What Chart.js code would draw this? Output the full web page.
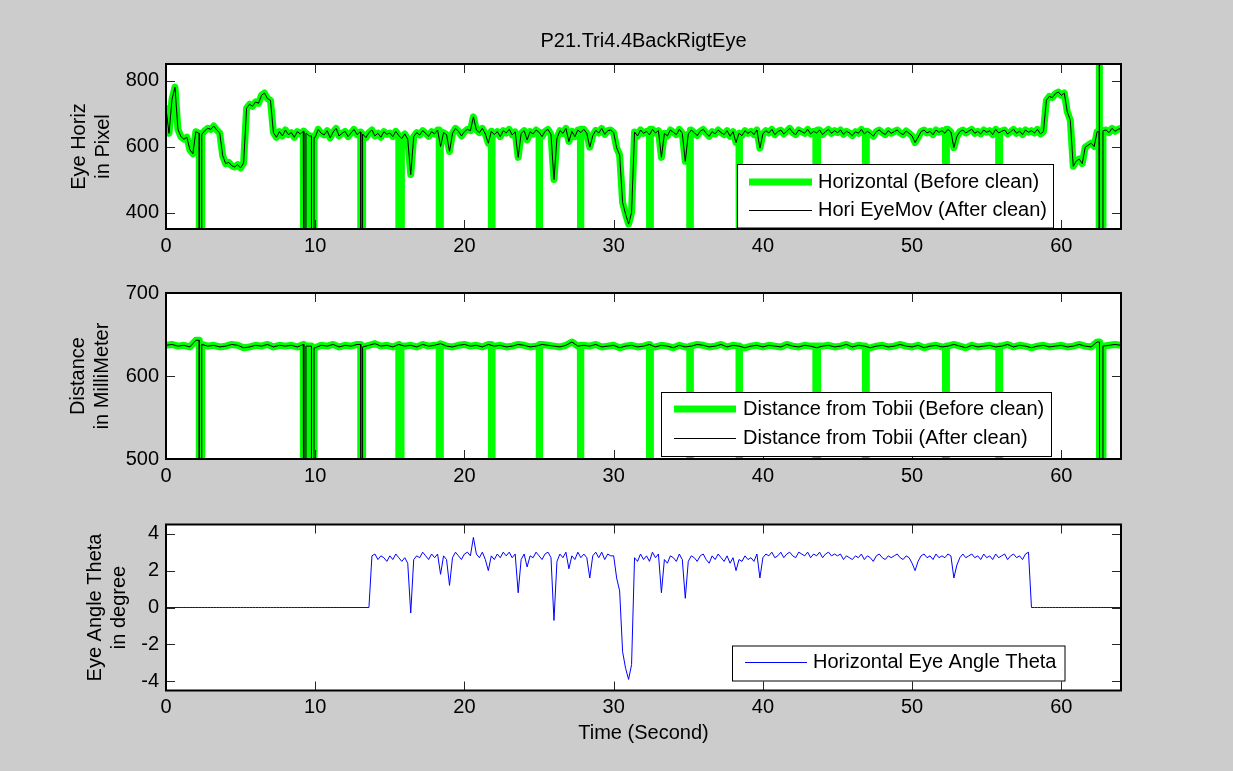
<!DOCTYPE html>
<html>
<head>
<meta charset="utf-8">
<title>P21.Tri4.4BackRigtEye</title>
<script src="https://cdn.jsdelivr.net/npm/chart.js@4.4.1/dist/chart.umd.min.js"></script>
<style>
    html, body { margin: 0; padding: 0; background: #cccccc; }
    #figure { position: relative; width: 1233px; height: 771px; overflow: hidden; background: #cccccc; }
    #figure canvas { position: absolute; left: 0; }
</style>
</head>
<body>
<div id="figure">
    <canvas id="horizChart" width="1233" height="260" style="top:0px"></canvas>
    <canvas id="distChart" width="1233" height="240" style="top:260px"></canvas>
    <canvas id="thetaChart" width="1233" height="271" style="top:500px"></canvas>
</div>
<script>
// sample spacing in seconds
const timeStep = 0.2;
const distStep = 0.4;

// eye horizontal position after cleaning (pixel), one value every 0.2 s, one row per second
const horizPixel = [
    715, 640, 742, 780, 652,
    630, 622, 628, 590, 578,
    645, 640, 636, 648, 655,
    652, 662, 650, 641, 572,
    548, 552, 542, 538, 545,
    535, 550, 716, 728, 722,
    735, 731, 755, 762, 745,
    740, 642, 628, 645, 632,
    650, 636, 642, 628, 645,
    638, 646, 640, 632, 644,
    628, 652, 640, 635, 648,
    626, 644, 655, 632, 640,
    646, 630, 641, 652, 636,
    644, 638, 627, 642, 650,
    632, 640, 628, 645, 637,
    641, 630, 646, 633, 624,
    638, 622, 515, 630, 642,
    635, 648, 640, 631, 645,
    638, 650, 600, 642, 636,
    585, 640, 655, 646, 632,
    645, 652, 648, 690, 650,
    642, 655, 638, 610, 646,
    636, 645, 630, 648, 641,
    652, 635, 644, 567, 640,
    648, 620, 645, 638, 650,
    643, 630, 646, 652, 636,
    500, 625, 648, 640, 655,
    615, 646, 630, 650, 642,
    652, 640, 598, 633, 649,
    641, 655, 637, 648, 650,
    642, 596, 575, 430, 395,
    365, 400, 644, 632, 650,
    640, 646, 635, 652, 641,
    648, 567, 640, 632, 650,
    643, 636, 652, 640, 555,
    638, 650, 642, 633, 646,
    652, 640, 631, 645, 638,
    650, 642, 636, 648, 631,
    645, 612, 640, 633, 648,
    640, 646, 636, 650, 595,
    638, 648, 641, 652, 636,
    645, 650, 638, 646, 655,
    642, 636, 650, 645, 640,
    652, 638, 646, 641, 650,
    636, 645, 652, 640, 648,
    642, 650, 637, 646, 641,
    633, 645, 640, 652, 638,
    646, 640, 631, 645, 650,
    642, 636, 648, 640, 645,
    650, 641, 636, 647, 640,
    632, 612, 628, 645, 650,
    641, 646, 636, 650, 643,
    648, 640, 652, 644, 597,
    630, 645, 650, 641, 647,
    652, 640, 646, 638, 650,
    643, 648, 636, 652, 641,
    646, 650, 638, 645, 652,
    640, 647, 636, 650, 643,
    648, 641, 652, 638, 645,
    740, 752, 748, 760, 765,
    755, 762, 705, 680, 540,
    556, 562, 548, 598, 604,
    610, 600, 645, 640, 648,
    650, 642, 655, 646, 652,
    655
];

// distance from Tobii (mm), one value every 0.4 s, one row per 4 s
const distanceMm = [
    637, 638, 636, 637, 635, 643, 638, 636, 637, 635,
    636, 638, 637, 634, 635, 637, 636, 638, 635, 637,
    636, 637, 635, 638, 636, 634, 637, 636, 638, 635,
    637, 636, 638, 635, 637, 639, 636, 637, 635, 638,
    636, 637, 635, 638, 636, 637, 639, 636, 635, 637,
    638, 636, 637, 635, 638, 636, 637, 635, 636, 638,
    637, 635, 636, 638, 637, 636, 635, 637, 641, 636,
    637, 636, 638, 635, 636, 637, 634, 636, 637, 635,
    636, 638, 635, 637, 636, 634, 637, 635, 636, 638,
    637, 635, 636, 638, 635, 637, 636, 634, 636, 637,
    635, 637, 636, 635, 638, 636, 635, 637, 636, 634,
    636, 637, 635, 636, 638, 635, 637, 636, 634, 636,
    637, 635, 636, 638, 636, 635, 637, 634, 636, 637,
    635, 636, 638, 636, 634, 637, 635, 636, 637, 635,
    636, 638, 635, 637, 636, 634, 636, 637, 635, 636,
    637, 635, 636, 638, 636, 635, 641, 636, 637, 638,
    637
];

// horizontal eye angle theta (degree), one value every 0.2 s, one row per second
const thetaDeg = [
    0, 0, 0, 0, 0,
    0, 0, 0, 0, 0,
    0, 0, 0, 0, 0,
    0, 0, 0, 0, 0,
    0, 0, 0, 0, 0,
    0, 0, 0, 0, 0,
    0, 0, 0, 0, 0,
    0, 0, 0, 0, 0,
    0, 0, 0, 0, 0,
    0, 0, 0, 0, 0,
    0, 0, 0, 0, 0,
    0, 0, 0, 0, 0,
    0, 0, 0, 0, 0,
    0, 0, 0, 0, 2.8,
    2.9, 2.6, 2.8, 2.7, 2.5,
    2.8, 2.6, 2.9, 2.7, 2.5,
    2.7, 2.4, -0.3, 2.6, 2.8,
    2.7, 3.0, 2.8, 2.6, 2.9,
    2.7, 2.9, 1.8, 2.8, 2.6,
    1.2, 2.7, 3.0, 2.8, 2.6,
    2.9, 3.0, 2.8, 3.8, 2.9,
    2.7, 3.0, 2.6, 2.0, 2.8,
    2.6, 2.9, 2.7, 3.0, 2.8,
    3.0, 2.7, 2.9, 0.8, 2.6,
    2.9, 2.2, 2.8, 2.7, 3.0,
    2.8, 2.6, 2.9, 3.0, 2.7,
    -0.7, 2.5, 2.9, 2.7, 3.0,
    2.1, 2.8, 2.6, 3.0, 2.7,
    2.9, 2.7, 1.6, 2.8, 3.0,
    2.7, 3.0, 2.6, 2.9, 2.8,
    2.8, 1.6, 0.9, -2.4, -3.3,
    -3.9, -3.1, 2.7, 2.5, 2.9,
    2.6, 2.8, 2.5, 3.0, 2.7,
    2.9, 0.8, 2.6, 2.4, 2.8,
    2.7, 2.5, 2.9, 2.6, 0.5,
    2.5, 2.8, 2.7, 2.5, 2.8,
    2.9, 2.6, 2.4, 2.8, 2.6,
    2.9, 2.7, 2.5, 2.8, 2.4,
    2.7, 2.0, 2.6, 2.5, 2.8,
    2.6, 2.7, 2.5, 2.9, 1.6,
    2.7, 2.9, 2.8, 3.0, 2.7,
    2.8, 3.0, 2.7, 2.9, 3.0,
    2.8, 2.7, 3.0, 2.9, 2.8,
    3.0, 2.7, 2.9, 2.8, 3.0,
    2.7, 2.9, 3.0, 2.8, 2.9,
    2.8, 2.9, 2.6, 2.8, 2.7,
    2.6, 2.8, 2.7, 2.9, 2.6,
    2.8, 2.7, 2.5, 2.8, 2.9,
    2.7, 2.6, 2.8, 2.7, 2.8,
    2.9, 2.7, 2.6, 2.8, 2.7,
    2.4, 2.0, 2.5, 2.8, 2.9,
    2.7, 2.8, 2.6, 2.9, 2.7,
    2.8, 2.7, 2.9, 2.8, 1.6,
    2.3, 2.7, 2.9, 2.7, 2.8,
    2.9, 2.7, 2.8, 2.6, 2.9,
    2.7, 2.8, 2.6, 2.9, 2.7,
    2.8, 2.9, 2.6, 2.8, 2.9,
    2.7, 2.8, 2.6, 2.9, 3.0,
    0, 0, 0, 0, 0,
    0, 0, 0, 0, 0,
    0, 0, 0, 0, 0,
    0, 0, 0, 0, 0,
    0, 0, 0, 0, 0,
    0, 0, 0, 0, 0,
    0
];

// tracker lost the eye, [from s, to s]. the first list was not repaired by the cleaning
const lostKept = [[2.23, 2.39], [9.24, 9.38], [9.75, 9.92], [13.05, 13.15], [62.56, 62.79]];
const lostCleaned = [[15.61, 15.75], [18.31, 18.37], [21.81, 21.85], [25.01, 25.05], [27.77, 27.81],
    [32.42, 32.46], [35.1, 35.14], [38.41, 38.45], [43.55, 43.67], [46.87, 46.93], [52.24, 52.3], [55.81, 55.87]];
const lostValue = 0;
// one wild horizontal sample just before the last loss
const horizGlitch = [[62.53, 62.55]];
const glitchValue = 1400;

const FONT = '"Liberation Sans", Arial, Helvetica, sans-serif';
Chart.defaults.font.family = FONT;
Chart.defaults.font.size = 20;
Chart.defaults.color = '#000';

function gaps(list, value) {
    return list.map(g => [g[0], g[1], value]);
}

// samples -> {x, y} points. inside a gap the samples are replaced by the gap value,
// the last good sample is held up to the gap so the drop is a straight vertical
function buildLine(values, step, gapList) {
    const samples = values.map((v, i) => ({x: Math.round(i * step * 100) / 100, y: v}));
    const pts = samples.filter(p => !gapList.some(g => p.x > g[0] && p.x < g[1]));
    gapList.forEach(g => {
        const before = samples.filter(p => p.x <= g[0]).pop();
        const after = samples.find(p => p.x >= g[1]);
        pts.push({x: g[0], y: before.y});
        pts.push({x: g[0], y: g[2]});
        pts.push({x: g[1], y: g[2]});
        pts.push({x: g[1], y: after.y});
    });
    pts.sort((a, b) => a.x - b.x);
    return pts;
}

// white axes, box and inward ticks on four sides, legend inside the axes
const matlabAxes = {
    id: 'matlabAxes',
    beforeDatasetsDraw(chart) {
        const {ctx, chartArea: a} = chart;
        ctx.save();
        ctx.fillStyle = '#ffffff';
        ctx.fillRect(a.left, a.top, a.width, a.height);
        ctx.restore();
    },
    afterDatasetsDraw(chart, args, opts) {
        const {ctx, chartArea: a, scales} = chart;
        ctx.save();
        ctx.strokeStyle = '#262626';
        ctx.lineWidth = 1;
        ctx.beginPath();
        scales.x.ticks.forEach(t => {
            const px = Math.round(scales.x.getPixelForValue(t.value)) + 0.5;
            ctx.moveTo(px, a.bottom);
            ctx.lineTo(px, a.bottom - 9);
            ctx.moveTo(px, a.top);
            ctx.lineTo(px, a.top + 9);
        });
        scales.y.ticks.forEach(t => {
            const py = Math.round(scales.y.getPixelForValue(t.value)) + 0.5;
            ctx.moveTo(a.left, py);
            ctx.lineTo(a.left + 9, py);
            ctx.moveTo(a.right, py);
            ctx.lineTo(a.right - 9, py);
        });
        ctx.stroke();
        ctx.strokeStyle = '#000';
        ctx.lineWidth = 2;
        ctx.strokeRect(a.left, a.top, a.width, a.height);

        const lg = opts.legend;
        if (lg) {
            ctx.fillStyle = '#ffffff';
            ctx.fillRect(lg.left, lg.top, lg.width, lg.height);
            ctx.strokeStyle = '#000';
            ctx.lineWidth = 1;
            ctx.strokeRect(lg.left, lg.top, lg.width, lg.height);
            ctx.font = '20px ' + FONT;
            ctx.textBaseline = 'middle';
            ctx.textAlign = 'left';
            chart.data.datasets.forEach((ds, i) => {
                const y = lg.rows[i];
                ctx.strokeStyle = ds.borderColor;
                ctx.lineWidth = ds.borderWidth;
                ctx.beginPath();
                ctx.moveTo(lg.lineFrom, y);
                ctx.lineTo(lg.lineTo, y);
                ctx.stroke();
                ctx.fillStyle = '#000';
                ctx.fillText(ds.label, lg.textX, y);
            });
        }
        ctx.restore();
    }
};

function xAxis(title, height) {
    return {
        type: 'linear',
        min: 0,
        max: 64,
        grid: {display: false, drawTicks: false},
        border: {display: false},
        ticks: {stepSize: 10, includeBounds: false, padding: 5, maxRotation: 0, autoSkip: false},
        title: title ? {display: true, text: title, padding: {top: 0, bottom: 5}} : {display: false},
        afterFit(scale) { scale.height = height; }
    };
}

function yAxis(min, max, step, label, titlePad) {
    return {
        type: 'linear',
        min: min,
        max: max,
        grid: {display: false, drawTicks: false},
        border: {display: false},
        ticks: {stepSize: step, includeBounds: false, padding: 7},
        title: {display: true, text: label, padding: {top: titlePad, bottom: 0}},
        afterFit(scale) { scale.width = 166; }
    };
}

function baseOptions(padTop, padBottom) {
    return {
        responsive: false,
        maintainAspectRatio: false,
        animation: false,
        events: [],
        layout: {padding: {left: 0, right: 112, top: padTop, bottom: padBottom}},
        elements: {
            point: {radius: 0},
            line: {tension: 0, borderJoinStyle: 'round', borderCapStyle: 'round'}
        },
        plugins: {legend: {display: false}, tooltip: {enabled: false}}
    };
}

function InitHorizChart() {
    const ctx = document.getElementById('horizChart').getContext('2d');
    const opts = baseOptions(0, 1);
    opts.plugins.title = {
        display: true,
        text: 'P21.Tri4.4BackRigtEye',
        fullSize: false,
        color: '#000',
        font: {size: 20, weight: 'normal'},
        padding: {top: 29, bottom: 11}
    };
    opts.plugins.matlabAxes = {
        legend: {left: 737.5, top: 164.5, width: 316, height: 63.5, lineFrom: 749, lineTo: 812, textX: 818, rows: [182, 210.5]}
    };
    opts.scales = {x: xAxis(null, 30), y: yAxis(350, 850, 200, ['Eye Horiz', 'in Pixel'], 67)};
    const kept = gaps(lostKept, lostValue).concat(gaps(horizGlitch, glitchValue));
    new Chart(ctx, {
        type: 'line',
        data: {
            datasets: [
                {
                    label: 'Horizontal (Before clean)',
                    borderColor: '#00ff00',
                    borderWidth: 7,
                    clip: 0,
                    order: 2,
                    data: buildLine(horizPixel, timeStep, kept.concat(gaps(lostCleaned, lostValue)))
                },
                {
                    label: 'Hori EyeMov (After clean)',
                    borderColor: '#000000',
                    borderWidth: 1,
                    clip: 0,
                    order: 1,
                    data: buildLine(horizPixel, timeStep, kept)
                }
            ]
        },
        options: opts,
        plugins: [matlabAxes]
    });
}

function InitDistChart() {
    const ctx = document.getElementById('distChart').getContext('2d');
    const opts = baseOptions(33, 11);
    opts.plugins.matlabAxes = {
        legend: {left: 661.5, top: 132.5, width: 390, height: 64, lineFrom: 674, lineTo: 736, textX: 743, rows: [149, 178.5]}
    };
    opts.scales = {x: xAxis(null, 30), y: yAxis(500, 700, 100, ['Distance', 'in MilliMeter'], 66)};
    const kept = gaps(lostKept, lostValue);
    new Chart(ctx, {
        type: 'line',
        data: {
            datasets: [
                {
                    label: 'Distance from Tobii (Before clean)',
                    borderColor: '#00ff00',
                    borderWidth: 7,
                    clip: 0,
                    order: 2,
                    data: buildLine(distanceMm, distStep, kept.concat(gaps(lostCleaned, lostValue)))
                },
                {
                    label: 'Distance from Tobii (After clean)',
                    borderColor: '#000000',
                    borderWidth: 1,
                    clip: 0,
                    order: 1,
                    data: buildLine(distanceMm, distStep, kept)
                }
            ]
        },
        options: opts,
        plugins: [matlabAxes]
    });
}

function InitThetaChart() {
    const ctx = document.getElementById('thetaChart').getContext('2d');
    const opts = baseOptions(24.5, 20.5);
    opts.plugins.matlabAxes = {
        legend: {left: 732.5, top: 146, width: 332.5, height: 35, lineFrom: 745, lineTo: 807, textX: 813, rows: [162.5]}
    };
    opts.scales = {x: xAxis('Time (Second)', 60), y: yAxis(-4.5, 4.5, 2, ['Eye Angle Theta', 'in degree'], 83)};
    new Chart(ctx, {
        type: 'line',
        data: {
            datasets: [
                {
                    label: 'Horizontal Eye Angle Theta',
                    borderColor: '#0000ff',
                    borderWidth: 1,
                    clip: 0,
                    data: buildLine(thetaDeg, timeStep, [])
                }
            ]
        },
        options: opts,
        plugins: [matlabAxes]
    });
}

InitHorizChart();
InitDistChart();
InitThetaChart();
</script>
</body>
</html>
